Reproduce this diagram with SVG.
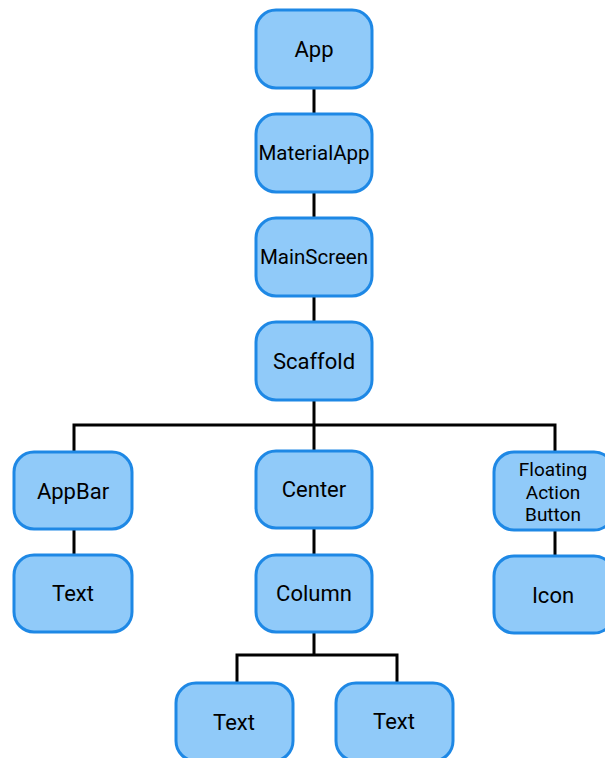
<svg xmlns="http://www.w3.org/2000/svg" width="605" height="758" viewBox="0 0 605 758">
<style>
.n{fill:#90CAF9;stroke:#1E88E5;stroke-width:3}
.t{font-family:Roboto,"Liberation Sans",sans-serif;font-size:22px;fill:#000;text-anchor:middle;dominant-baseline:central}
.s{font-size:20.5px}
.f{font-size:19px}
.c{fill:none;stroke:#000;stroke-width:3}
</style>
<rect width="605" height="758" fill="#fff"/>
<g id="connectors">
<path class="c" d="M314 88V114M314 192V218M314 296V322M314 400V452M74 452V425H555V452M314 528V554M74 529V554M555 530V555M314 632V655H237V682M314 655H397V682"/>
</g>
<g id="app"><rect class="n" x="256" y="10" width="116" height="78" rx="20"/><text class="t" x="314" y="49">App</text></g>
<g id="materialapp"><rect class="n" x="256" y="114" width="116" height="78" rx="20"/><text class="t s" x="314" y="153">MaterialApp</text></g>
<g id="mainscreen"><rect class="n" x="256" y="218" width="116" height="78" rx="20"/><text class="t s" x="314" y="257">MainScreen</text></g>
<g id="scaffold"><rect class="n" x="256" y="322" width="116" height="78" rx="20"/><text class="t" x="314" y="361">Scaffold</text></g>
<g id="appbar"><rect class="n" x="14" y="452" width="118" height="77" rx="20"/><text class="t" x="73" y="491">AppBar</text></g>
<g id="text1"><rect class="n" x="14" y="555" width="118" height="77" rx="20"/><text class="t" x="73" y="593">Text</text></g>
<g id="center"><rect class="n" x="256" y="451" width="116" height="77" rx="20"/><text class="t" x="314" y="489">Center</text></g>
<g id="column"><rect class="n" x="256" y="555" width="116" height="77" rx="20"/><text class="t" x="314" y="593">Column</text></g>
<g id="fab"><rect class="n" x="494" y="452" width="120" height="78" rx="20"/><text class="t f" x="553" y="469">Floating</text><text class="t f" x="553" y="492">Action</text><text class="t f" x="553" y="514">Button</text></g>
<g id="icon"><rect class="n" x="494" y="556" width="120" height="77" rx="20"/><text class="t" x="553" y="595">Icon</text></g>
<g id="text2"><rect class="n" x="176" y="683" width="117" height="78" rx="20"/><text class="t" x="234" y="722">Text</text></g>
<g id="text3"><rect class="n" x="336" y="683" width="117" height="78" rx="20"/><text class="t" x="394" y="721">Text</text></g>
</svg>
